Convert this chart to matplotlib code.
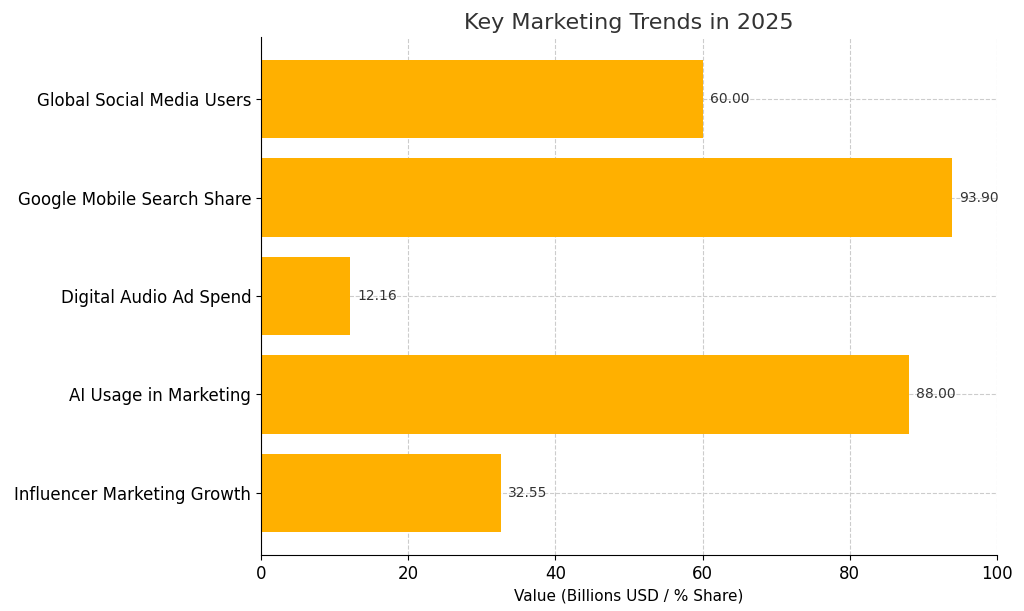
import matplotlib
matplotlib.use("Agg")
import matplotlib.pyplot as plt

categories = ["Global Social Media Users", "Google Mobile Search Share", "Digital Audio Ad Spend",
              "AI Usage in Marketing", "Influencer Marketing Growth"]
values = [60.00, 93.90, 12.16, 88.00, 32.55]

fig = plt.figure(figsize=(10.24, 6.11), dpi=100)
ax = fig.add_axes([261/1024, 1-555/611, (997-261)/1024, (555-37)/611])
y = list(range(len(categories)))[::-1]
ax.barh(y, values, color="#FFB000", height=0.8, zorder=2)
for yi, v in zip(y, values):
    ax.text(v + 1, yi, f"{v:.2f}", va="center", ha="left", fontsize=10, color="#333333")
ax.set_yticks(y)
ax.set_yticklabels(categories, fontsize=12)
ax.set_xlim(0, 100)
ax.set_ylim(-0.63, 4.63)
ax.tick_params(axis="x", labelsize=12)
ax.set_xlabel("Value (Billions USD / % Share)", fontsize=11)
ax.set_title("Key Marketing Trends in 2025", fontsize=16, color="#333333")
ax.grid(True, linestyle="--", color="#cccccc", linewidth=0.8, zorder=0)
for s in ["top", "right"]:
    ax.spines[s].set_visible(False)
fig.savefig("out.png", dpi=100)
